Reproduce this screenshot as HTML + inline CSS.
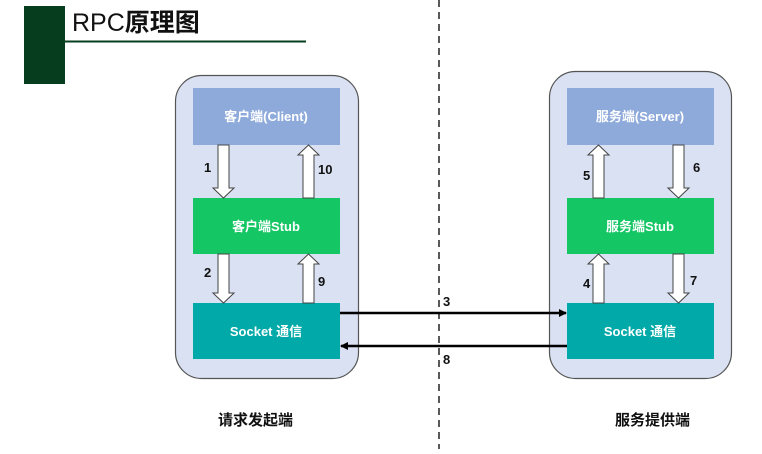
<!DOCTYPE html>
<html><head><meta charset="utf-8"><style>
body{margin:0;width:762px;height:449px;background:#fff;overflow:hidden}
svg text{font-family:"Liberation Sans","Noto Sans CJK SC",sans-serif;font-weight:bold}
</style></head><body>
<svg width="762" height="449" xmlns="http://www.w3.org/2000/svg">
<defs><marker id="ah" markerWidth="8" markerHeight="8" refX="7" refY="4" orient="auto" markerUnits="userSpaceOnUse"><path d="M0,0 L8,4 L0,8 Z" fill="#000"/></marker></defs>
<rect x="24" y="6" width="41" height="78" fill="#063d1e"/>
<text x="72" y="31" font-size="25" font-weight="normal" style="font-weight:normal" fill="#111">RPC<tspan font-weight="bold" style="font-weight:bold">原理图</tspan></text>
<line x1="65" y1="41.5" x2="306" y2="41.5" stroke="#063d1e" stroke-width="2"/>
<line x1="439" y1="0" x2="439" y2="449" stroke="#222" stroke-width="1.5" stroke-dasharray="7,5"/>
<rect x="175.5" y="75.5" width="183" height="303" rx="26" fill="#d9e1f2" stroke="#555" stroke-width="1.2"/>
<rect x="549.5" y="71.5" width="182" height="307" rx="26" fill="#d9e1f2" stroke="#555" stroke-width="1.2"/>
<g fill="#8eaadb"><rect x="193" y="88" width="147" height="57"/><rect x="567" y="88" width="147" height="57"/></g>
<g fill="#14c664"><rect x="193" y="198" width="147" height="56"/><rect x="567" y="198" width="147" height="56"/></g>
<g fill="#01a9a8"><rect x="193" y="303" width="147" height="56"/><rect x="567" y="303" width="147" height="56"/></g>
<g fill="#fff" font-size="13" text-anchor="middle">
<text x="266" y="121">客户端(Client)</text><text x="640" y="121">服务端(Server)</text>
<text x="266" y="231">客户端Stub</text><text x="640" y="231">服务端Stub</text>
<text x="266" y="336">Socket 通信</text><text x="640" y="336">Socket 通信</text>
</g>
<g fill="#fff" stroke="#444" stroke-width="1">
<!-- down arrows: center cx, top y1, bottom y2 -->
<path d="M218,145 H229 V188 H234 L223.5,198 L213,188 H218 Z"/>
<path d="M218,254 H229 V293 H234 L223.5,303 L213,293 H218 Z"/>
<path d="M673,145 H684 V188 H689 L678.5,198 L668,188 H673 Z"/>
<path d="M673,254 H684 V293 H689 L678.5,303 L668,293 H673 Z"/>
<!-- up arrows -->
<path d="M303,198 H314 V155 H319 L308.5,145 L298,155 H303 Z"/>
<path d="M303,303 H314 V264 H319 L308.5,254 L298,264 H303 Z"/>
<path d="M593,198 H604 V155 H609 L598.5,145 L588,155 H593 Z"/>
<path d="M593,303 H604 V264 H609 L598.5,254 L588,264 H593 Z"/>
</g>
<line x1="340" y1="313" x2="566" y2="313" stroke="#000" stroke-width="2.5" marker-end="url(#ah)"/>
<line x1="567" y1="346" x2="341" y2="346" stroke="#000" stroke-width="2.5" marker-end="url(#ah)"/>
<g fill="#111" font-size="13">
<text x="204" y="172">1</text><text x="318" y="174">10</text>
<text x="204" y="277">2</text><text x="318" y="286">9</text>
<text x="443" y="306">3</text><text x="443" y="364">8</text>
<text x="583" y="180">5</text><text x="693" y="172">6</text>
<text x="583" y="288">4</text><text x="690" y="285">7</text>
<text x="218" y="425" font-size="15">请求发起端</text>
<text x="615" y="425" font-size="15">服务提供端</text>
</g>
</svg>
</body></html>
